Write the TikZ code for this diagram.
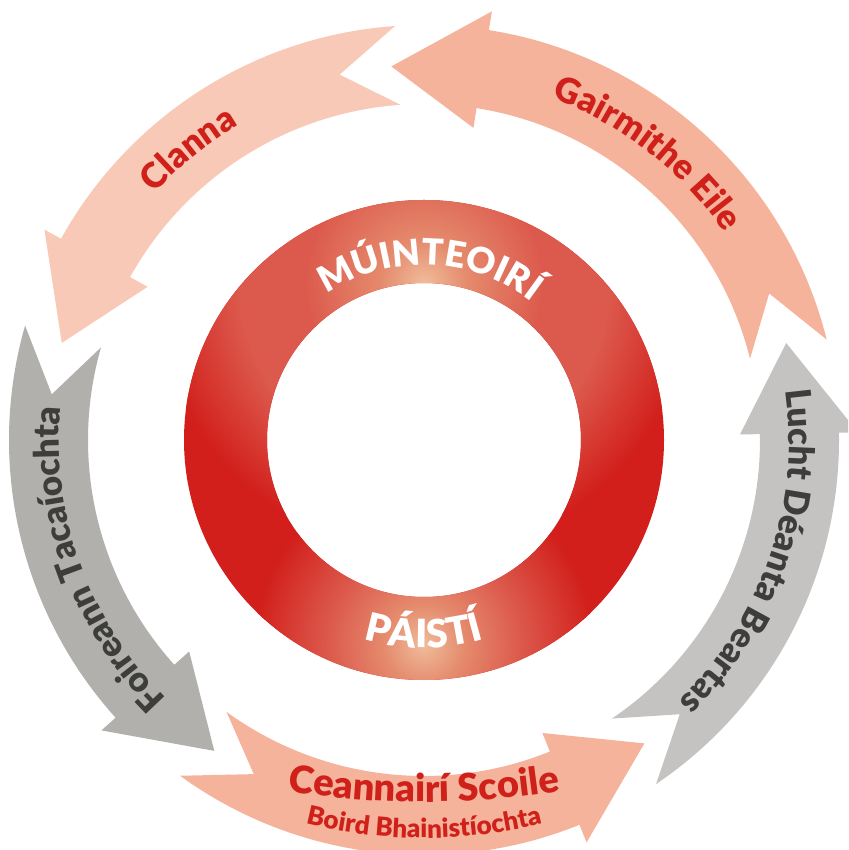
\documentclass[tikz,border=0pt]{standalone}
\usepackage{fontspec}
\usetikzlibrary{decorations.text}
\newfontfamily\labelfont{Lato}[BoldFont={Lato Black}]
\definecolor{ringred}{HTML}{D21F1B}
\definecolor{ringsoft}{HTML}{DC5A4D}
\definecolor{ringwarm}{HTML}{E58A6D}
\definecolor{ringglow}{HTML}{EFBC9A}
\definecolor{labelred}{HTML}{D0201A}
\definecolor{labelgrey}{HTML}{3D3D3B}
\definecolor{salmonlight}{HTML}{F9C9B7}
\definecolor{salmon}{HTML}{F6B39C}
\definecolor{greydark}{HTML}{B1B0AC}
\definecolor{greylight}{HTML}{C4C3C1}
\pgfdeclareradialshading{topglow}{\pgfpoint{0bp}{0bp}}{color(0bp)=(ringglow); color(4bp)=(ringwarm); color(11bp)=(ringsoft); color(17bp)=(ringsoft); color(25bp)=(ringred); color(50bp)=(ringred)}
\pgfdeclareradialshading{lowglow}{\pgfpoint{0bp}{0bp}}{color(0bp)=(ringglow); color(6bp)=(ringwarm); color(14bp)=(ringsoft); color(25bp)=(ringred); color(50bp)=(ringred)}
\newcommand{\ringarrow}[4]{%
  \fill[#4] (#1:415) arc[start angle=#1, end angle=#2, radius=415]
    -- (#2:434) -- (#3:375) -- (#2:316) -- (#2:336)
    arc[start angle=#2, end angle=#1, radius=336] -- ({#1+9}:375) -- cycle;}
\newcommand{\armfont}{\labelfont\bfseries\fontsize{35}{40}\selectfont}
\newcommand{\hubfont}[1]{\labelfont\bfseries\fontsize{#1}{40}\selectfont}
\tikzset{
  curved/.style={decorate, decoration={text along path, text align=center, text={#1}}}
}
\begin{document}
\begin{tikzpicture}[x=1pt, y=1pt]
\useasboundingbox (-424,-410) rectangle (424,440);
\clip (-424,-410) rectangle (424,440);
\ringarrow{14}{81}{95}{salmon}
\ringarrow{94}{151}{165}{salmonlight}
\ringarrow{164}{222}{236}{greydark}
\ringarrow{234}{292}{306}{salmon}
\ringarrow{304}{361}{375}{greylight}
\fill[ringred, even odd rule] (0,0) circle (240) (0,0) circle (157);
\begin{scope}[even odd rule]
  \clip (0,0) circle (240) (0,0) circle (157);
  \shade[shading=topglow] (0,157) circle (270);
  \shade[shading=lowglow] (0,-205) circle (170);
\end{scope}
\path[curved={|\armfont\color{labelred}|Clanna}] (169:365) arc[start angle=169, end angle=89, radius=365];
\path[curved={|\armfont\color{labelred}|Gairmithe Eile}] (97:365) arc[start angle=97, end angle=7, radius=365];
\path[curved={|\armfont\color{labelgrey}|Foireann Tacaíochta}] (250:365) arc[start angle=250, end angle=150, radius=365];
\path[curved={|\armfont\color{labelgrey}|Lucht Déanta Beartas}] (31:365) arc[start angle=31, end angle=-69, radius=365];
\path[curved={|\hubfont{38}\color{labelred}|Ceannairí Scoile}] (0,488) ++(252:850) arc[start angle=252, end angle=288, radius=850];
\path[curved={|\hubfont{26}\color{labelred}|Boird Bhainistíochta}] (0,102) ++(255:500) arc[start angle=255, end angle=285, radius=500];
\path[curved={|\hubfont{36}\color{white}|MÚINTEOIRÍ}] (138:175) arc[start angle=138, end angle=38, radius=175];
\path[curved={|\hubfont{39}\color{white}|PÁISTÍ}] (230:208) arc[start angle=230, end angle=310, radius=208];
\end{tikzpicture}
\end{document}
